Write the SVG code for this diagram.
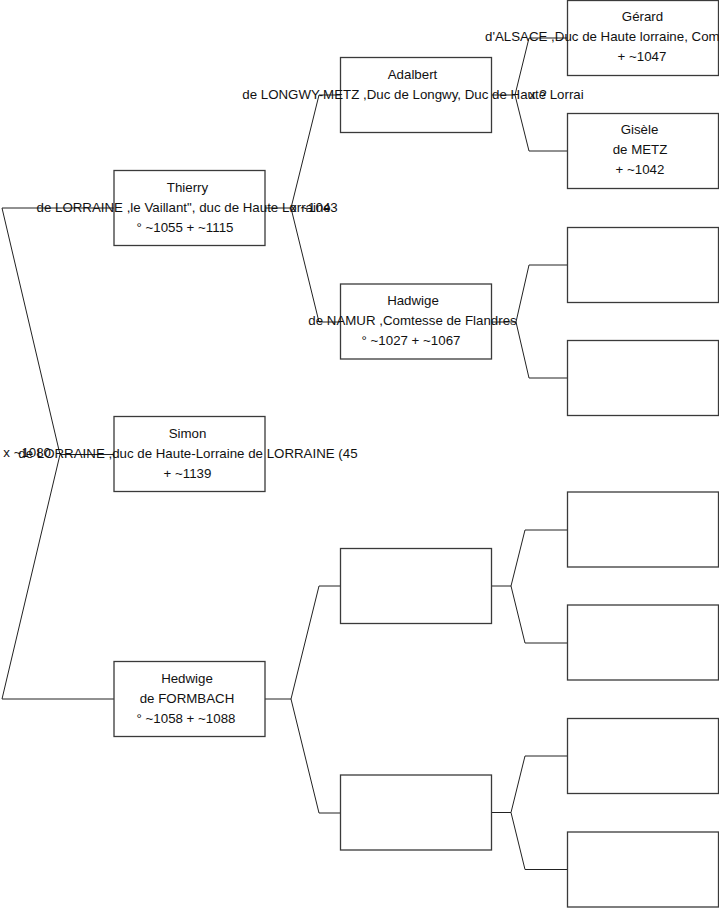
<svg xmlns="http://www.w3.org/2000/svg" width="719" height="908" viewBox="0 0 719 908">
<style>
.box{fill:#fff;stroke:#3a3a3a;stroke-width:1.3}
.c{fill:none;stroke:#222;stroke-width:1}
text{font-family:"Liberation Sans",Arial,sans-serif;font-size:13.3px;fill:#111}
.m{text-anchor:middle}
</style>
<rect width="719" height="908" fill="#fff"/>
<g id="connectors">
<path class="c" d="M114,454.5 H60 L2,208 H114 M60,454.5 L2,699 H114"/>
<path class="c" d="M265,208 H291 L319,95 H340.5 M291,208 L319,322 H340.5"/>
<path class="c" d="M265,699 H291 L319,586 H340.5 M291,699 L319,813 H340.5"/>
<path class="c" d="M491.5,95 H515 L529,38 H567.5 M515,95 L529,151 H567.5"/>
<path class="c" d="M491.5,322 H516 L529,265 H567.5 M516,322 L529,378 H567.5"/>
<path class="c" d="M491.5,586 H511 L525,530 H567.5 M511,586 L525,643 H567.5"/>
<path class="c" d="M491.5,812.5 H511 L525,756 H567.5 M511,812.5 L525,869.5 H567.5"/>
</g>
<g id="thierry"><rect class="box" x="114" y="170.5" width="151" height="75"/>
<text class="m" x="187.5" y="191.5">Thierry</text>
<text x="36.5" y="211.5">de LORRAINE ,le Vaillant", duc de Haute Lorraine</text>
<text class="m" x="185" y="231.5">° ~1055 + ~1115</text></g>
<g id="simon"><rect class="box" x="114" y="416.5" width="151" height="75"/>
<text class="m" x="187.5" y="437.5">Simon</text>
<text x="18.3" y="457.5">de LORRAINE ,duc de Haute-Lorraine de LORRAINE (45</text>
<text class="m" x="187.5" y="477.5">+ ~1139</text></g>
<g id="hedwige"><rect class="box" x="114" y="661.5" width="151" height="75"/>
<text class="m" x="187" y="682.5">Hedwige</text>
<text class="m" x="187" y="702.5">de FORMBACH</text>
<text class="m" x="186" y="722.5">° ~1058 + ~1088</text></g>
<g id="adalbert"><rect class="box" x="340.5" y="57.5" width="151" height="75"/>
<text class="m" x="412.5" y="78.5">Adalbert</text>
<text x="242.3" y="98.5">de LONGWY-METZ ,Duc de Longwy, Duc de Haute Lorrai</text></g>
<g id="hadwige"><rect class="box" x="340.5" y="284" width="151" height="75"/>
<text class="m" x="413" y="305">Hadwige</text>
<text x="308.3" y="325">de NAMUR ,Comtesse de Flandres</text>
<text class="m" x="411" y="345">° ~1027 + ~1067</text></g>
<g id="p6"><rect class="box" x="340.5" y="548.5" width="151" height="75"/></g>
<g id="p7"><rect class="box" x="340.5" y="775" width="151" height="75"/></g>
<g id="gerard"><rect class="box" x="567.5" y="0.5" width="151" height="75"/>
<text class="m" x="642.5" y="21">Gérard</text>
<text x="485" y="41">d'ALSACE ,Duc de Haute lorraine, Com</text>
<text class="m" x="642" y="61">+ ~1047</text></g>
<g id="gisele"><rect class="box" x="567.5" y="113.5" width="151" height="75"/>
<text class="m" x="639.5" y="133.8">Gisèle</text>
<text class="m" x="640" y="153.8">de METZ</text>
<text class="m" x="640" y="173.8">+ ~1042</text></g>
<g id="p10"><rect class="box" x="567.5" y="227.5" width="151" height="75"/></g>
<g id="p11"><rect class="box" x="567.5" y="340.5" width="151" height="75"/></g>
<g id="p12"><rect class="box" x="567.5" y="492" width="151" height="75"/></g>
<g id="p13"><rect class="box" x="567.5" y="605" width="151" height="75"/></g>
<g id="p14"><rect class="box" x="567.5" y="718.5" width="151" height="75"/></g>
<g id="p15"><rect class="box" x="567.5" y="832" width="151" height="75"/></g>
<g id="marriages">
<text x="3.3" y="457">x ~1080</text>
<text x="290" y="211.5">x ~1043</text>
<text x="529" y="98.5">x ?</text>
</g>
</svg>
